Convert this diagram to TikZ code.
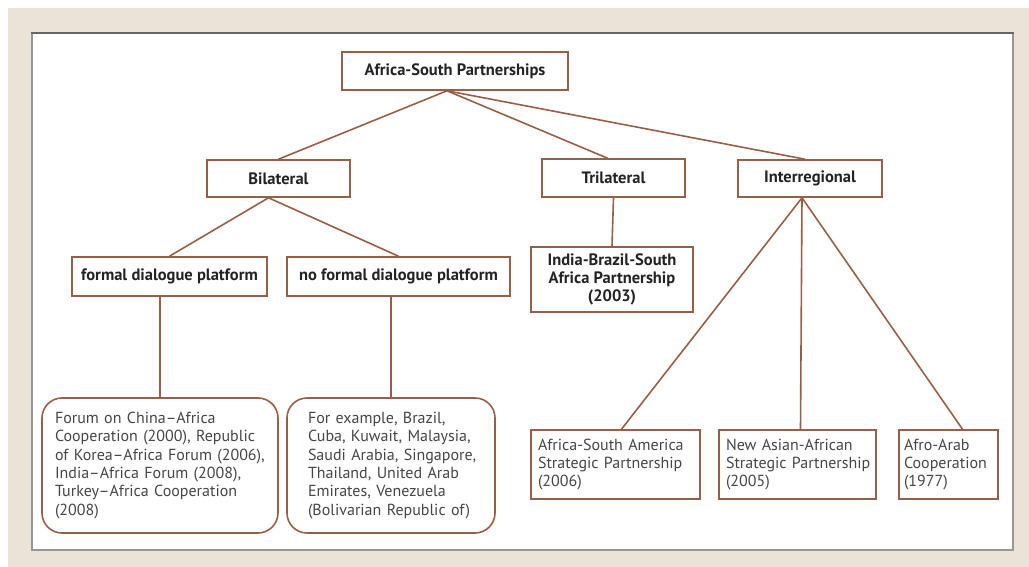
\documentclass[tikz,border=0pt]{standalone}
\usepackage{fontspec}
\setmainfont{PT Sans}
\definecolor{beige}{RGB}{235,226,216}
\definecolor{brn}{RGB}{150,96,72}
\definecolor{pgray}{RGB}{150,150,150}
\definecolor{txt}{RGB}{70,70,70}
\definecolor{btxt}{RGB}{35,35,35}
\begin{document}
\begin{tikzpicture}[x=1pt,y=-1pt,
  box/.style={draw=brn,line width=1.6pt,fill=white,inner sep=0pt,align=center,
    font=\fontsize{16.5}{18}\selectfont\bfseries,text=btxt},
  leaf/.style={draw=brn,line width=1.6pt,fill=white,inner ysep=0pt,align=left,
    font=\fontsize{16}{18.3}\selectfont,text=txt},
  rleaf/.style={leaf,rounded corners=20pt},
  conn/.style={draw=brn,line width=1.6pt}]
\useasboundingbox (0,0) rectangle (1029,567);
\fill[white] (0,0) rectangle (1029,567);
\fill[beige] (8,8) rectangle (1029,567);
\draw[pgray,line width=2pt,fill=white] (32,33) rectangle (1013,550);
\draw[gray!80!black,line width=1.2pt] (31,33) -- (1014,33);

\node[box,minimum width=226pt,minimum height=38pt] (root) at (455,71) {Africa-South Partnerships};
\node[box,minimum width=143pt,minimum height=37pt] (bil) at (278.5,178.5) {Bilateral};
\node[box,minimum width=143pt,minimum height=38pt] (tri) at (613.5,178) {Trilateral};
\node[box,minimum width=144pt,minimum height=37pt] (inter) at (810,178.5) {Interregional};
\node[box,minimum width=195pt,minimum height=39pt] (formal) at (169.5,276.5) {formal dialogue platform};
\node[box,minimum width=223pt,minimum height=39pt] (noformal) at (398.5,276.5) {no formal dialogue platform};
\node[box,minimum width=162pt,minimum height=65pt] (ibsa) at (612,279.5) {India-Brazil-South\\Africa Partnership\\(2003)};

\node[rleaf,inner xsep=13pt,text width=210pt,minimum height=135pt] (rb1) at (160,465.5)
  {\mbox{Forum on China–Africa}\\\mbox{Cooperation (2000), Republic}\\\mbox{of Korea–Africa Forum (2006),}\\\mbox{India–Africa Forum (2008),}\\\mbox{Turkey–Africa Cooperation}\\\mbox{(2008)}};
\node[rleaf,inner xsep=21pt,text width=166pt,minimum height=135pt] (rb2) at (391,465.5)
  {\mbox{For example, Brazil,}\\\mbox{Cuba, Kuwait, Malaysia,}\\\mbox{Saudi Arabia, Singapore,}\\\mbox{Thailand, United Arab}\\\mbox{Emirates, Venezuela}\\\mbox{(Bolivarian Republic of)}};
\node[leaf,inner xsep=7pt,text width=155pt,minimum height=69pt] (asa) at (615.5,464.5)
  {\mbox{Africa-South America}\\\mbox{Strategic Partnership}\\\mbox{(2006)}};
\node[leaf,inner xsep=7pt,text width=143pt,minimum height=69pt] (naa) at (797.5,464.5)
  {\mbox{New Asian-African}\\\mbox{Strategic Partnership}\\\mbox{(2005)}};
\node[leaf,inner xsep=5pt,text width=89pt,minimum height=69pt] (afro) at (948.5,464.5)
  {\mbox{Afro-Arab}\\\mbox{Cooperation}\\\mbox{(1977)}};

\coordinate (rt) at ([xshift=-8pt]root.south);
\coordinate (bt) at ([xshift=-10pt]bil.south);
\coordinate (it) at ([xshift=-8pt]inter.south);
\draw[conn] (rt) -- (bil.north);
\draw[conn] (rt) -- ([xshift=-6pt]tri.north);
\draw[conn] (rt) -- ([xshift=-5pt]inter.north);
\draw[conn] (bt) -- (formal.north);
\draw[conn] (bt) -- (noformal.north);
\draw[conn] (formal.south -| rb1.north) -- (rb1.north);
\draw[conn] (noformal.south -| rb2.north) -- (rb2.north);
\draw[conn] (tri.south) -- (ibsa.north);
\draw[conn] (it) -- ([xshift=6pt]asa.north);
\draw[conn] (it) -- ([xshift=3pt]naa.north);
\draw[conn] (it) -- ([xshift=14pt]afro.north);
\end{tikzpicture}
\end{document}
